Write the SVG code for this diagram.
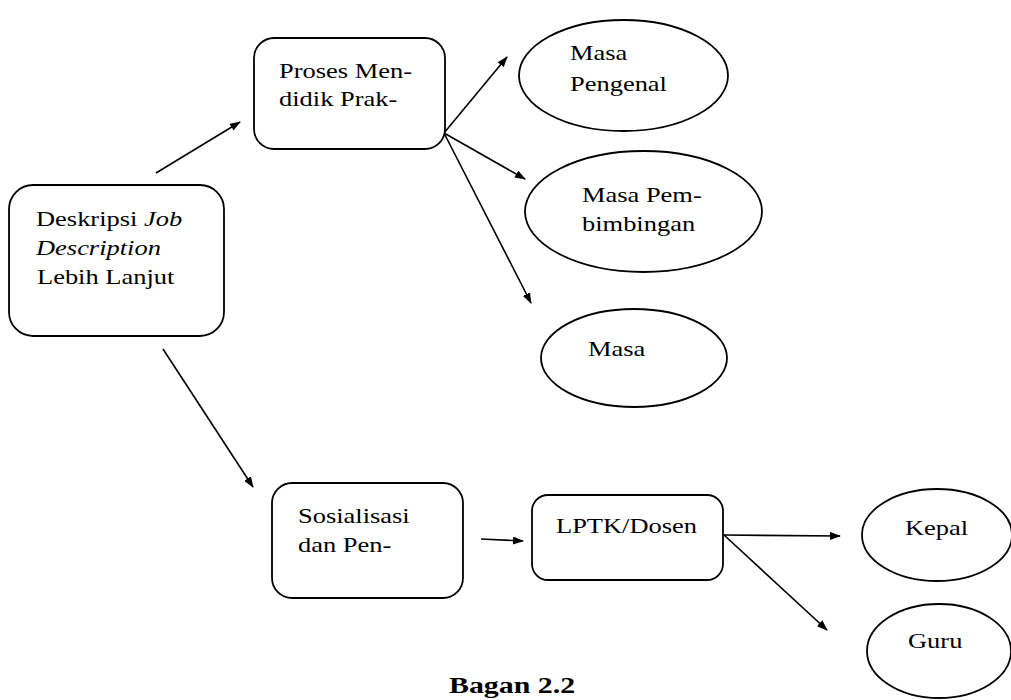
<svg xmlns="http://www.w3.org/2000/svg" width="1011" height="700" viewBox="0 0 1011 700">
<style>
.n{fill:#fff;stroke:#000;stroke-width:1.8}
.t{font-family:"Liberation Serif","Times New Roman",serif;font-size:21px;fill:#000}
.c{stroke:#000;stroke-width:1.6;fill:none;marker-end:url(#ah)}
.cap{font-family:"Liberation Serif","Times New Roman",serif;font-size:23px;font-weight:bold;fill:#000}
</style>
<defs>
<marker id="ah" markerUnits="userSpaceOnUse" markerWidth="11" markerHeight="8" refX="10" refY="4" orient="auto">
<path d="M0,0 L11,4 L0,8 z" fill="#000"/>
</marker>
</defs>
<rect width="1011" height="700" fill="#fff"/>
<g id="connectors">
<line class="c" x1="156" y1="173" x2="240" y2="122"/>
<line class="c" x1="163" y1="349" x2="253" y2="487"/>
<line class="c" x1="444" y1="133" x2="507" y2="57"/>
<line class="c" x1="444" y1="133" x2="525" y2="179"/>
<line class="c" x1="444" y1="133" x2="531" y2="303"/>
<line class="c" x1="481" y1="539" x2="523" y2="541"/>
<line class="c" x1="724" y1="535" x2="840" y2="536"/>
<line class="c" x1="724" y1="535" x2="827" y2="630"/>
</g>
<g id="node-deskripsi">
<rect class="n" x="9" y="185" width="215" height="151" rx="24"/>
<text class="t" transform="translate(36,226) scale(1.26,1)">Deskripsi <tspan font-style="italic">Job</tspan></text>
<text class="t" font-style="italic" transform="translate(36,255) scale(1.26,1)">Description</text>
<text class="t" transform="translate(37,284) scale(1.26,1)">Lebih Lanjut</text>
</g>
<g id="node-proses">
<rect class="n" x="254" y="38" width="191" height="111" rx="20"/>
<text class="t" transform="translate(279,78) scale(1.26,1)">Proses Men-</text>
<text class="t" transform="translate(279,106) scale(1.26,1)">didik Prak-</text>
</g>
<g id="node-pengenal">
<ellipse class="n" cx="623.5" cy="75.5" rx="104.5" ry="55.5"/>
<text class="t" transform="translate(570,60) scale(1.26,1)">Masa</text>
<text class="t" transform="translate(570,91) scale(1.26,1)">Pengenal</text>
</g>
<g id="node-pembimbingan">
<ellipse class="n" cx="643.5" cy="211.5" rx="118.5" ry="60.5"/>
<text class="t" transform="translate(582,202) scale(1.26,1)">Masa Pem-</text>
<text class="t" transform="translate(582,231) scale(1.26,1)">bimbingan</text>
</g>
<g id="node-masa">
<ellipse class="n" cx="634" cy="358" rx="93" ry="49"/>
<text class="t" transform="translate(588,356) scale(1.26,1)">Masa</text>
</g>
<g id="node-sosialisasi">
<rect class="n" x="272" y="483" width="191" height="115" rx="20"/>
<text class="t" transform="translate(298,523) scale(1.26,1)">Sosialisasi</text>
<text class="t" transform="translate(298,552) scale(1.26,1)">dan Pen-</text>
</g>
<g id="node-lptk">
<rect class="n" x="532" y="495" width="191" height="85" rx="16"/>
<text class="t" transform="translate(556,533) scale(1.26,1)">LPTK/Dosen</text>
</g>
<g id="node-kepal">
<ellipse class="n" cx="937" cy="535" rx="75" ry="46"/>
<text class="t" transform="translate(905,535) scale(1.26,1)">Kepal</text>
</g>
<g id="node-guru">
<ellipse class="n" cx="939" cy="651" rx="72" ry="47"/>
<text class="t" transform="translate(908,648) scale(1.26,1)">Guru</text>
</g>
<text class="cap" transform="translate(449,693) scale(1.3,1)">Bagan 2.2</text>
</svg>
